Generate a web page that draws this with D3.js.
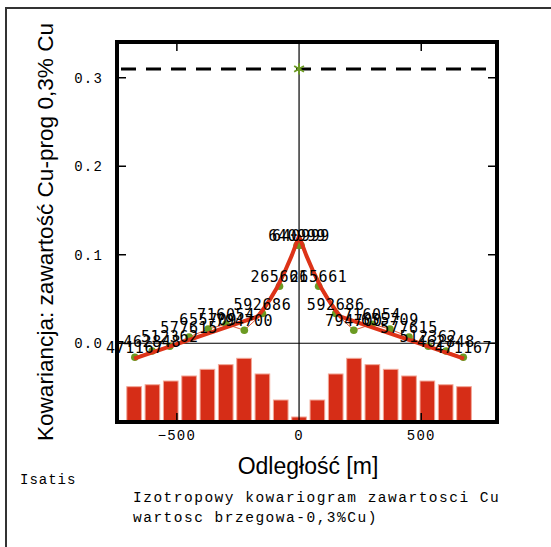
<!DOCTYPE html>
<html><head><meta charset="utf-8">
<script src="https://cdn.jsdelivr.net/npm/d3@7/dist/d3.min.js"></script>
<style>
html,body{margin:0;padding:0;background:#fff;}
svg{display:block;}
</style></head>
<body>
<script>
// ---- data ----
const lagDist = [8, 80, 150, 224, 299, 372, 450, 529, 601, 672];
const covValues = [0.1107, 0.0644, 0.0336, 0.0147, 0.0215, 0.0160, 0.0071, -0.0034, -0.0087, -0.0158];
const pairLabels = ["640999","265661","592686","794700","716054","655709","577615","512362","462848","471167"];
const barLags = [0, 75, 150, 225, 300, 375, 450, 525, 600, 675];
const barCounts = [39000, 258000, 594000, 796000, 714000, 654000, 568000, 503000, 455000, 430000];
const modelDist = [0, 30, 60, 90, 120, 150, 170, 675];
const modelValues = [0.121, 0.099, 0.080, 0.063, 0.049, 0.037, 0.030, -0.0175];
const sill = 0.31;
const xTicks = [-500, 0, 500];
const yTicks = [0.0, 0.1, 0.2, 0.3];
const yTitle = "Kowariancja: zawartość Cu-prog 0,3% Cu";
const xTitle = "Odległość [m]";
const caption = ["Izotropowy kowariogram zawartosci Cu", "wartosc brzegowa-0,3%Cu)"];
const brand = "Isatis";

const W = 551, H = 547;
const L = 117, R = 497, T = 42, B = 422;
const svg = d3.select("body").append("svg").attr("width", W).attr("height", H);

const x = d3.scaleLinear().domain([-745, 810]).range([L, R]);
const y = d3.scaleLinear().domain([-0.089, 0.3404]).range([B, T]);
const yBar = d3.scaleLinear().domain([0, 1000000]).range([B - 2, B - 2 - 77.5]);

// outer frame
svg.append("rect").attr("x", 6).attr("y", 8).attr("width", 600).attr("height", 600)
  .attr("fill", "none").attr("stroke", "#333").attr("stroke-width", 2);

// bars (both sides)
const bars = [];
barLags.forEach((d, i) => {
  bars.push({lag: d, c: barCounts[i]});
  if (d !== 0) bars.push({lag: -d, c: barCounts[i]});
});
svg.append("g").selectAll("rect").data(bars).join("rect")
  .attr("x", d => x(d.lag - 30))
  .attr("width", d => x(d.lag + 30) - x(d.lag - 30))
  .attr("y", d => yBar(d.c))
  .attr("height", d => yBar(0) - yBar(d.c) + 2)
  .attr("fill", "#d62d17").attr("stroke", "#f2a898").attr("stroke-width", 1);

// zero lines
svg.append("line").attr("x1", x(0)).attr("x2", x(0)).attr("y1", T).attr("y2", B)
  .attr("stroke", "#000").attr("stroke-width", 1.2);
svg.append("line").attr("x1", L).attr("x2", R).attr("y1", y(0)).attr("y2", y(0))
  .attr("stroke", "#000").attr("stroke-width", 1.2);

// sill dashed
svg.append("line").attr("x1", L + 4).attr("x2", R).attr("y1", y(sill)).attr("y2", y(sill))
  .attr("stroke", "#000").attr("stroke-width", 3).attr("stroke-dasharray", "15,10");

// experimental points both sides
const pts = [];
lagDist.forEach((d, i) => {
  pts.push({d: -d, v: covValues[i], lab: pairLabels[i]});
  pts.push({d: d, v: covValues[i], lab: pairLabels[i]});
});
const line = d3.line().x(d => x(d.d)).y(d => y(d.v));
const leftPts = pts.filter(p => p.d < 0).sort((a, b) => a.d - b.d);
const rightPts = pts.filter(p => p.d > 0).sort((a, b) => a.d - b.d);
[leftPts, rightPts].forEach(arr => {
  svg.append("path").datum(arr).attr("d", line).attr("fill", "none")
    .attr("stroke", "#e05a40").attr("stroke-width", 1);
});

// model
const model = [];
modelDist.forEach((d, i) => model.push({d: -d, v: modelValues[i]}));
model.reverse();
modelDist.forEach((d, i) => { if (d !== 0) model.push({d: d, v: modelValues[i]}); });

svg.append("g").selectAll("circle").data(pts).join("circle")
  .attr("cx", d => x(d.d)).attr("cy", d => y(d.v)).attr("r", 3.8)
  .attr("fill", "#6b9a22");

svg.append("path").datum(model).attr("d", line).attr("fill", "none")
  .attr("stroke", "#dd3318").attr("stroke-width", 4).attr("stroke-linejoin", "round");

// labels
svg.append("g").selectAll("text").data(pts).join("text")
  .attr("x", d => x(d.d)).attr("y", d => y(d.v) - 4)
  .attr("text-anchor", "middle")
  .attr("font-family", "DejaVu Sans Mono").attr("font-size", 15)
  .attr("letter-spacing", 0.6).attr("fill", "#000")
  .text(d => d.lab);

// sill asterisk at 0
svg.append("path").attr("d", d3.symbol(d3.symbolAsterisk, 90)())
  .attr("transform", `translate(${x(0)},${y(sill)})`)
  .attr("fill", "none").attr("stroke", "#6b9a22").attr("stroke-width", 1.8);

// frame
svg.append("rect").attr("x", L).attr("y", T).attr("width", R - L).attr("height", B - T)
  .attr("fill", "none").attr("stroke", "#000").attr("stroke-width", 4);

// ticks
const tk = 9;
const g = svg.append("g").attr("stroke", "#000").attr("stroke-width", 1.5);
yTicks.forEach(v => {
  g.append("line").attr("x1", L).attr("x2", L + tk).attr("y1", y(v)).attr("y2", y(v));
  g.append("line").attr("x1", R).attr("x2", R - tk).attr("y1", y(v)).attr("y2", y(v));
});
xTicks.filter(v => v !== 0).forEach(v => {
  g.append("line").attr("x1", x(v)).attr("x2", x(v)).attr("y1", T).attr("y2", T + tk);
  g.append("line").attr("x1", x(v)).attr("x2", x(v)).attr("y1", B).attr("y2", B - tk);
});

// tick labels
svg.append("g").selectAll("text").data(yTicks).join("text")
  .attr("x", 103).attr("y", d => y(d) + 5).attr("text-anchor", "end")
  .attr("font-family", "Liberation Mono").attr("font-size", 14).attr("letter-spacing", 1.2)
  .text(d => d3.format(".1f")(d));
svg.append("g").selectAll("text").data(xTicks).join("text")
  .attr("x", d => x(d)).attr("y", 440).attr("text-anchor", "middle")
  .attr("font-family", "Liberation Mono").attr("font-size", 14).attr("letter-spacing", 1.2)
  .text(d => d < 0 ? "\u2212" + Math.abs(d) : d);

// titles
svg.append("text").attr("x", 308).attr("y", 474).attr("text-anchor", "middle")
  .attr("font-family", "Liberation Sans").attr("font-size", 23).text(xTitle);
svg.append("text").attr("transform", "translate(53,232) rotate(-90)").attr("text-anchor", "middle")
  .attr("font-family", "Liberation Sans").attr("font-size", 22.6).text(yTitle);

svg.append("text").attr("x", 20).attr("y", 484)
  .attr("font-family", "Liberation Mono").attr("font-size", 14).attr("letter-spacing", 1.0).text(brand);
caption.forEach((c, i) => {
  svg.append("text").attr("x", 133).attr("y", 502 + i * 20)
    .attr("font-family", "Liberation Mono").attr("font-size", 14.5).attr("letter-spacing", 1.5).text(c);
});
</script>
</body></html>
